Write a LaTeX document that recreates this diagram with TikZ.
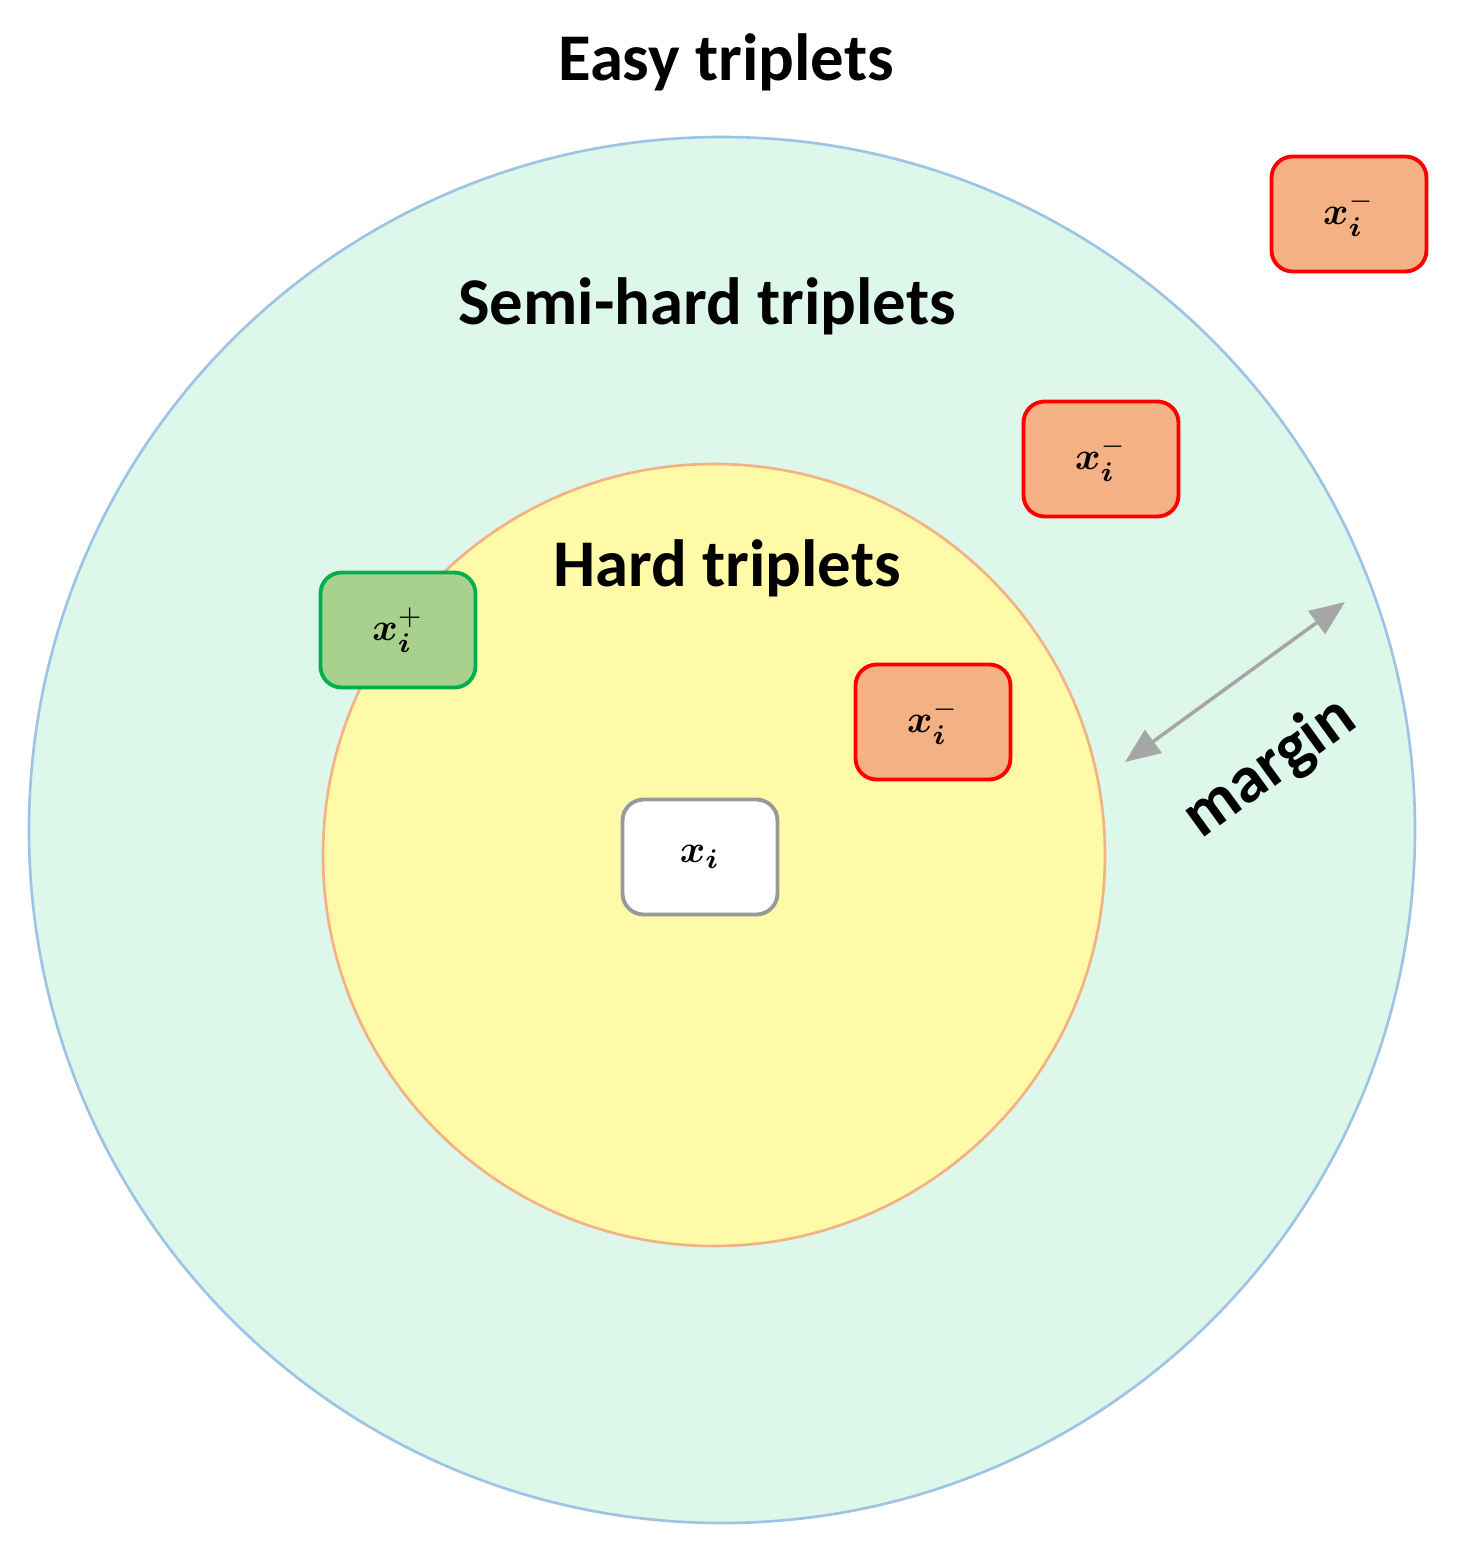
\documentclass[tikz,border=0pt]{standalone}
\usepackage{fontspec}
\usepackage{amsmath,bm,graphicx}
\setmainfont{Carlito}
\usetikzlibrary{arrows.meta}
\definecolor{mint}{HTML}{DDF7EA}
\definecolor{ring}{HTML}{9DC3E6}
\definecolor{yel}{HTML}{FFFAA8}
\definecolor{yelr}{HTML}{F4B183}
\definecolor{negf}{HTML}{F4B183}
\definecolor{posf}{HTML}{A9D18E}
\definecolor{posd}{HTML}{00B050}
\newcommand{\bx}[1]{\scalebox{2.2}{$#1$}}
\begin{document}
\begin{tikzpicture}[x=0.02cm,y=-0.02cm,
  lbl/.style={font=\fontsize{38}{42}\selectfont\bfseries},
  mbox/.style={rounded corners=12pt,line width=2.2pt,minimum width=3.1cm,minimum height=2.3cm},
  neg/.style={mbox,draw=red,fill=negf},
  ]
\useasboundingbox (0,0) rectangle (1458,1552);
\draw[fill=mint,draw=ring,line width=1.5pt] (722,830) circle (693);
\draw[fill=yel,draw=yelr,line width=1.5pt] (714,855) circle (391);
\node[lbl] (easy) at (726,62) {Easy triplets};
\node[lbl] (semi) at (707,306) {Semi-hard triplets};
\node[lbl] (hard) at (727,568) {Hard triplets};
\node[mbox,draw=gray!80,fill=white] (xi) at (700,857) {\bx{\bm{x}_{\bm{i}}}};
\node[mbox,draw=posd,fill=posf] (xp) at (398,630) {\bx{\bm{x}_{\bm{i}}^{+}}};
\node[neg] (n1) at (1349,214) {\bx{\bm{x}_{\bm{i}}^{-}}};
\node[neg] (n2) at (1101,459) {\bx{\bm{x}_{\bm{i}}^{-}}};
\node[neg] (n3) at (933,722) {\bx{\bm{x}_{\bm{i}}^{-}}};
\coordinate (a) at (1125,762);
\coordinate (b) at (1345,602);
\draw[gray!70,line width=2pt,{Triangle[length=20pt,width=16pt]}-{Triangle[length=20pt,width=16pt]}] (a) -- (b);
\node[lbl,rotate=36] (margin) at (1270,768) {margin};
\end{tikzpicture}
\end{document}
